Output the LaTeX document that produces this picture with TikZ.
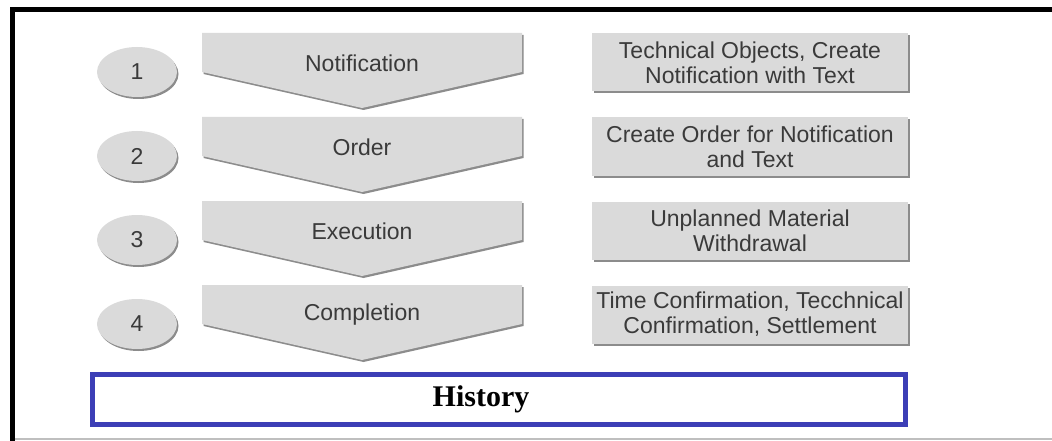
\documentclass[tikz,border=0pt]{standalone}
\usepackage{fontspec}
\setmainfont{Liberation Serif}
\setsansfont{Liberation Sans}
\usetikzlibrary{shapes.geometric,shadows}

\definecolor{panelgray}{RGB}{218,218,218}
\definecolor{shadegray}{RGB}{140,140,140}
\definecolor{labelgray}{RGB}{58,58,58}
\definecolor{histblue}{RGB}{60,62,182}

\begin{document}
\begin{tikzpicture}[x=1pt, y=-1pt,
    every node/.style={font=\sffamily\fontsize{23}{25}\selectfont, text=labelgray},
    flatshadow/.style={drop shadow={shadow xshift=1.5pt, shadow yshift=-2pt, fill=shadegray, opacity=1}},
    numoval/.style={ellipse, fill=panelgray, minimum width=80pt, minimum height=50pt, inner sep=0pt, flatshadow},
    chevron/.style={fill=panelgray, flatshadow},
    infobox/.style={fill=panelgray, minimum width=316pt, minimum height=58pt, inner sep=0pt, align=center, flatshadow},
    historybox/.style={draw=histblue, line width=5pt, minimum width=813pt, minimum height=50pt}]

\useasboundingbox (0,0) rectangle (1052,441);

% frame
\draw[line width=5pt] (12.5,441) -- (12.5,9.5) -- (1052,9.5);
\draw[gray!50, line width=1.5pt] (15,439) -- (1052,439);

% the four phases
\foreach \i/\step/\info [evaluate=\i as \t using 84*(\i-1)] in {
    1/Notification/{Technical Objects, Create\\Notification with Text},
    2/Order/{Create Order for Notification\\and Text},
    3/Execution/{Unplanned Material\\Withdrawal},
    4/Completion/{Time Confirmation, Tecchnical\\Confirmation, Settlement}}
{
    \node[numoval] (num\i) at (137,72+\t) {\i};
    \fill[chevron] (202,33+\t) -- (522,33+\t) -- (522,72+\t) -- (362,108+\t) -- (202,72+\t) -- cycle;
    \node (step\i) at (362,63+\t) {\step};
    \node[infobox] (info\i) at (750,62.5+\t) {\info};
}

% history bar
\node[historybox] (history) at (499,399.5) {};
\node[font=\rmfamily\bfseries\fontsize{30}{30}\selectfont, text=black] (histlabel) at ([xshift=-18pt]history.center) {History};
\end{tikzpicture}
\end{document}
